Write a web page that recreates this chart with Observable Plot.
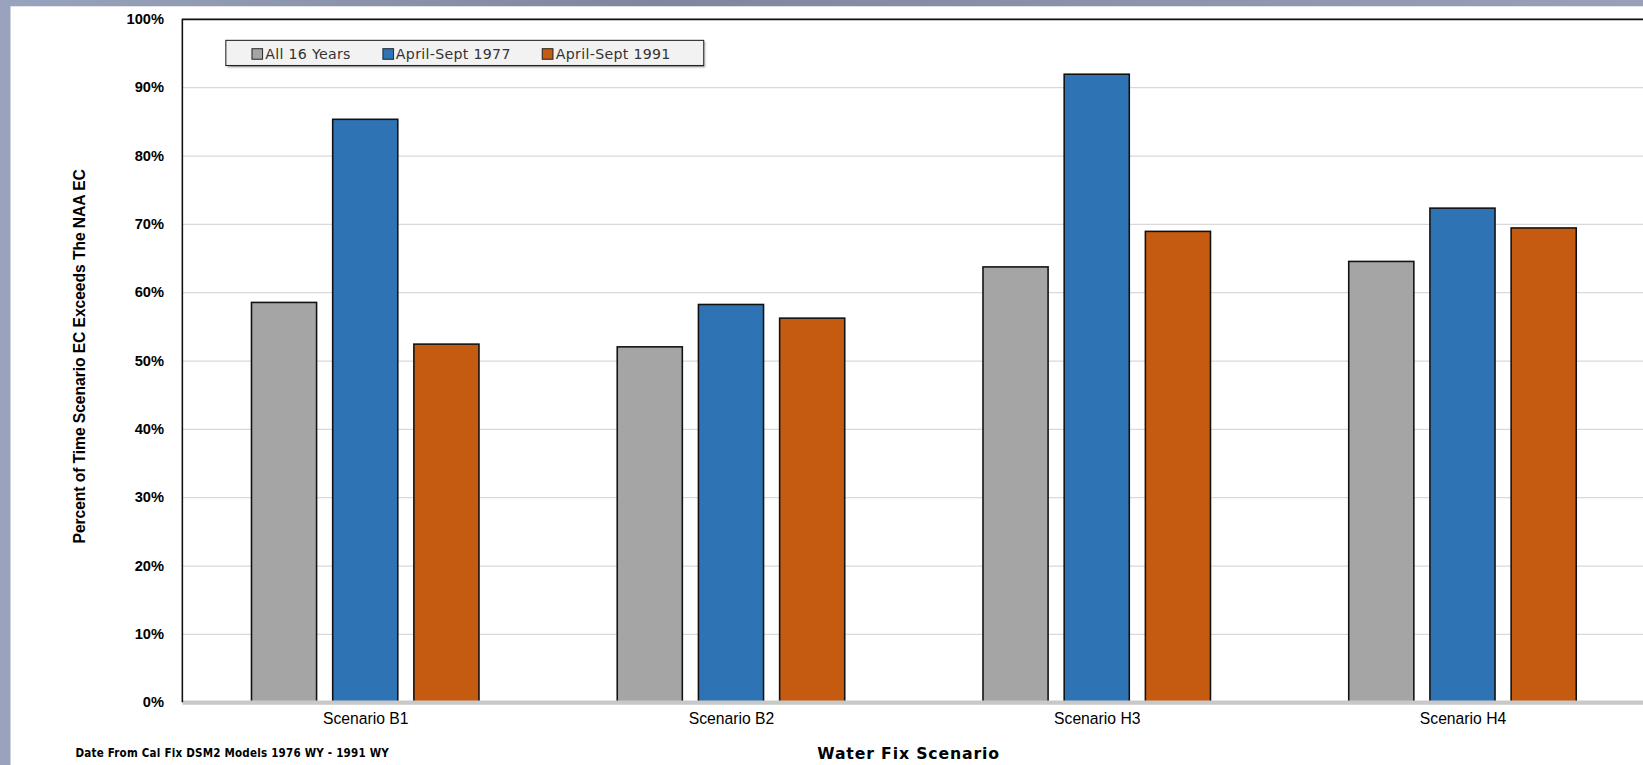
<!DOCTYPE html>
<html>
<head>
<meta charset="utf-8">
<script src="https://cdn.jsdelivr.net/npm/d3@7"></script>
<script src="https://cdn.jsdelivr.net/npm/@observablehq/plot@0.6"></script>
<style>
  body { margin: 0; width: 1643px; height: 765px; overflow: hidden;
         background: linear-gradient(90deg, #9aa3bd, #7f879f 40%, #9aa0b8); font-family: "Liberation Sans", Arial, sans-serif; }
  #wrap { position: absolute; left: 0; top: 0; width: 1568px; height: 730px; transform: scale(1.048); transform-origin: 0 0; }
  #panel { position: absolute; left: 10px; top: 6px; right: -20px; bottom: -20px; background: #fff; }
  #chart { position: absolute; left: 0; top: 0; }
  #legend { position: absolute; left: 215px; top: 38px; width: 457px; height: 25px; border: 1.5px solid #222;
            background: #f2f2f2; box-shadow: 2px 2px 2px #999; font: 13.5px "DejaVu Sans", sans-serif; letter-spacing: 0.3px; color: #333; display: flex; align-items: center; gap: 30px; padding-left: 24px; box-sizing: border-box; }
  #legend span i { display: inline-block; width: 9px; height: 9px; border: 1px solid #333; margin-right: 2px; vertical-align: -1px; }
  #ylabel { position: absolute; left: 76px; top: 340px; transform: translate(-50%, -50%) rotate(-90deg); white-space: nowrap;
            font: bold 15px "Liberation Sans Narrow", "Liberation Sans", sans-serif; letter-spacing: -0.1px; }
  #caption { position: absolute; left: 72px; top: 712px; font: bold 11px "DejaVu Sans Condensed", "DejaVu Sans", sans-serif; letter-spacing: 0.2px; }
  #xlabel { position: absolute; left: 867px; top: 710px; transform: translateX(-50%); font: bold 15px "DejaVu Sans", sans-serif; letter-spacing: 0.8px; }
</style>
</head>
<body>
<div id="wrap">
<div id="panel"></div>
<div id="chart"></div>
<div id="legend"></div>
<div id="ylabel">Percent of Time Scenario EC Exceeds The NAA EC</div>
<div id="caption">Date From Cal Fix DSM2 Models 1976 WY - 1991 WY</div>
<div id="xlabel">Water Fix Scenario</div>
</div>
<script>
const scenarios = ["Scenario B1", "Scenario B2", "Scenario H3", "Scenario H4"];
const series = ["All 16 Years", "April-Sept 1977", "April-Sept 1991"];
const colors = ["#a5a5a5", "#2e74b5", "#c55a11"];
const all16 = [0.585, 0.520, 0.637, 0.645];
const sept1977 = [0.853, 0.582, 0.919, 0.723];
const sept1991 = [0.524, 0.562, 0.689, 0.694];

const values = [all16, sept1977, sept1991];
const rows = [];
scenarios.forEach((sc, gi) => {
  series.forEach((s, si) => {
    const c = gi + 0.5 + (si - 1) * 0.222;
    rows.push({scenario: sc, series: s, x1: c - 0.089, x2: c + 0.089, value: values[si][gi]});
  });
});

const plot = Plot.plot({
  width: 1568,
  height: 700,
  marginTop: 18,
  marginBottom: 30,
  marginLeft: 174,
  marginRight: 0,
  style: {background: "transparent", fontFamily: "Liberation Sans, Arial, sans-serif"},
  x: {domain: [0, 4], range: [174, 1570], label: null},
  y: {domain: [0, 1], label: null},
  color: {domain: series, range: colors},
  marks: [
    Plot.ruleY(d3.range(0.1, 1.001, 0.1), {stroke: "#d9d9d9", strokeWidth: 1.2}),
    Plot.ruleY([1], {stroke: "#111", strokeWidth: 1.5}),
    Plot.rectY(rows, {x1: "x1", x2: "x2", y: "value", fill: "series", stroke: "#111", strokeWidth: 1.5}),
    Plot.ruleY([0], {stroke: "#c8c8c8", strokeWidth: 4}),
    Plot.axisX({ticks: [0.5, 1.5, 2.5, 3.5], tickFormat: (d) => scenarios[Math.floor(d)], tickSize: 0, fontSize: 15, tickPadding: 10, label: null}),
    Plot.axisY({ticks: d3.range(0, 1.001, 0.1), tickFormat: d3.format(".0%"), tickSize: 0, fontSize: 14, fontWeight: "bold", tickPadding: 18, label: null})
  ]
});
d3.select(plot).append("line").attr("x1", 174).attr("x2", 174).attr("y1", 18).attr("y2", 670).attr("stroke", "#111").attr("stroke-width", 1.5);
document.getElementById("chart").append(plot);

const legend = document.getElementById("legend");
series.forEach((s, i) => {
  const el = document.createElement("span");
  el.innerHTML = `<i style="background:${colors[i]}"></i>${s}`;
  legend.append(el);
});
</script>
</body>
</html>
